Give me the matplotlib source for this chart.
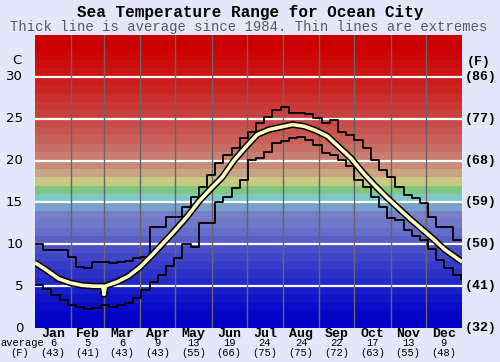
import numpy as np
import matplotlib
matplotlib.use("Agg")
import matplotlib.pyplot as plt

months = ["Jan", "Feb", "Mar", "Apr", "May", "Jun", "Jul", "Aug", "Sep", "Oct", "Nov", "Dec"]
month_days = [31, 28, 31, 30, 31, 30, 31, 31, 30, 31, 30, 31]
avg_c = [6, 5, 6, 9, 13, 19, 24, 24, 22, 17, 13, 9]
avg_f = [43, 41, 43, 43, 55, 66, 75, 75, 72, 63, 55, 48]
c_ticks = [0, 5, 10, 15, 20, 25, 30]
f_labels = ["(32)", "(41)", "(50)", "(59)", "(68)", "(77)", "(86)"]

avg_days = [0, 10, 20, 30, 40, 50, 58, 59, 60, 70, 80, 90, 100, 110, 120, 130, 140, 150,
            160, 170, 180, 190, 200, 210, 220, 230, 240, 250, 260, 270, 280, 290, 300,
            310, 320, 330, 340, 350, 365]
avg_temp = [7.8, 6.9, 5.9, 5.4, 5.1, 5.0, 5.0, 4.0, 5.0, 5.5, 6.2, 7.3, 8.7, 10.2, 11.7,
            13.3, 15.1, 16.6, 18.0, 20.0, 21.6, 23.1, 23.7, 24.0, 24.3, 24.1, 23.6, 22.9,
            21.6, 20.3, 18.6, 17.1, 15.7, 14.4, 13.1, 11.9, 10.7, 9.4, 7.9]

week_max = [10.0, 9.3, 9.3, 9.3, 8.5, 7.3, 7.2, 7.9, 7.9, 7.8, 7.9, 8.0, 8.4, 8.5,
            12.1, 12.1, 13.3, 13.3, 14.5, 15.7, 16.8, 18.3, 19.7, 20.7, 21.5, 22.7,
            23.4, 24.5, 25.2, 26.0, 26.4, 25.7, 25.7, 25.6, 25.1, 24.5, 24.9, 23.4,
            23.1, 22.5, 21.5, 20.1, 18.9, 18.0, 16.8, 15.9, 15.5, 14.9, 13.3, 12.1,
            12.1, 10.5, 10.5]
week_min = [5.1, 4.7, 4.0, 3.3, 2.8, 2.5, 2.3, 2.4, 2.7, 2.5, 2.7, 3.0, 3.6, 4.5,
            5.5, 6.3, 7.4, 8.4, 10.0, 9.7, 12.5, 12.5, 15.0, 15.7, 16.7, 17.7, 20.1,
            20.3, 21.0, 22.1, 22.3, 22.7, 22.8, 22.5, 21.9, 20.9, 20.7, 20.1, 19.4,
            17.7, 16.8, 15.7, 14.5, 13.1, 12.9, 11.7, 11.0, 10.5, 9.4, 8.1, 7.2, 6.3, 5.9]

band_colors = [
    (0, 0, 200), (5, 5, 200), (10, 10, 200), (15, 20, 200), (25, 30, 200),
    (35, 40, 200), (45, 50, 200), (55, 60, 200), (65, 70, 200), (75, 80, 200),
    (90, 95, 200), (100, 110, 200), (112, 118, 200), (118, 128, 200), (120, 160, 200),
    (128, 200, 200), (128, 200, 128), (200, 200, 130), (200, 165, 130), (200, 140, 120),
    (200, 125, 115), (200, 110, 100), (200, 95, 90), (200, 85, 80), (200, 75, 75),
    (200, 65, 65), (202, 55, 55), (203, 45, 45), (204, 35, 35), (205, 28, 28),
    (205, 20, 20), (205, 12, 12), (204, 5, 5), (204, 0, 0), (204, 0, 0)]

BG = "#e6e6fa"
fig = plt.figure(figsize=(5, 3.62), dpi=100, facecolor=BG)
ax = fig.add_axes([35 / 500, (362 - 328) / 362, 427 / 500, 293 / 362])

img = np.array(band_colors, dtype=float)[::-1].reshape(-1, 1, 3) / 255.0
ax.imshow(img, extent=[0, 365, 0, 35], aspect="auto", interpolation="nearest", zorder=0)

for t in c_ticks[1:]:
    ax.axhline(t, color="white", lw=1.6, zorder=1)
bounds = np.cumsum(month_days)[:-1]
for b in bounds:
    ax.axvline(b, color="#666666", lw=1.0, zorder=1)

wk_days = np.arange(len(week_max)) * 7
ax.step(wk_days, week_max, where="post", color="black", lw=1.3, zorder=3)
ax.step(np.arange(len(week_min)) * 7, week_min, where="post", color="black", lw=1.3, zorder=3)
ax.plot(avg_days, avg_temp, color="black", lw=4.8, solid_capstyle="butt", zorder=4)
ax.plot(avg_days, avg_temp, color="#ffffc0", lw=2.6, solid_capstyle="butt", zorder=5)

ax.set_xlim(0, 365)
ax.set_ylim(0, 35)
ax.set_xticks([])
ax.set_yticks([])
for s in ax.spines.values():
    s.set_visible(False)

mono = "Liberation Mono"
fig.text(0.5, 1 - 12 / 362, "Sea Temperature Range for Ocean City", ha="center", va="center",
         family=mono, weight="bold", fontsize=11.5, color="black")
fig.text(0.497, 1 - 27.5 / 362, "Thick line is average since 1984. Thin lines are extremes",
         ha="center", va="center", family=mono, fontsize=10, color="#5a5a5a")

# left and right labels
for t, fl in zip(c_ticks, f_labels):
    yfig = (328 - t * 8.37) / 362
    fig.text(23 / 500, 1 - yfig, str(t), ha="right", va="center", family="DejaVu Sans",
             fontsize=9.5, color="black")
    fig.text(465 / 500, 1 - yfig, fl, ha="left", va="center", family=mono,
             weight="bold", fontsize=9.5, color="black")
fig.text(17 / 500, 1 - 61 / 362, "C", ha="center", va="center", family="DejaVu Sans",
         fontsize=9.5, color="black")
fig.text(479 / 500, 1 - 62 / 362, "(F)", ha="center", va="center", family=mono,
         weight="bold", fontsize=9.5, color="black")

# bottom labels
starts = np.concatenate([[0], bounds])
for m, d0, nd, c, f in zip(months, starts, month_days, avg_c, avg_f):
    xc = 35 + (d0 + nd / 2) * 427 / 365
    fig.text(xc / 500, 1 - 334 / 362, m, ha="center", va="center", family=mono,
             weight="bold", fontsize=9.5, color="black")
    fig.text(xc / 500, 1 - 343.5 / 362, str(c), ha="center", va="center", family=mono,
             fontsize=7.5, color="black")
    fig.text(xc / 500, 1 - 352.5 / 362, "(%d)" % f, ha="center", va="center", family=mono,
             fontsize=7.5, color="black")
fig.text(22 / 500, 1 - 343.5 / 362, "average", ha="center", va="center", family=mono,
         fontsize=7.5, color="black")
fig.text(20 / 500, 1 - 352.5 / 362, "(F)", ha="center", va="center", family=mono,
         fontsize=7.5, color="black")

fig.savefig("out.png", dpi=100, facecolor=BG)
